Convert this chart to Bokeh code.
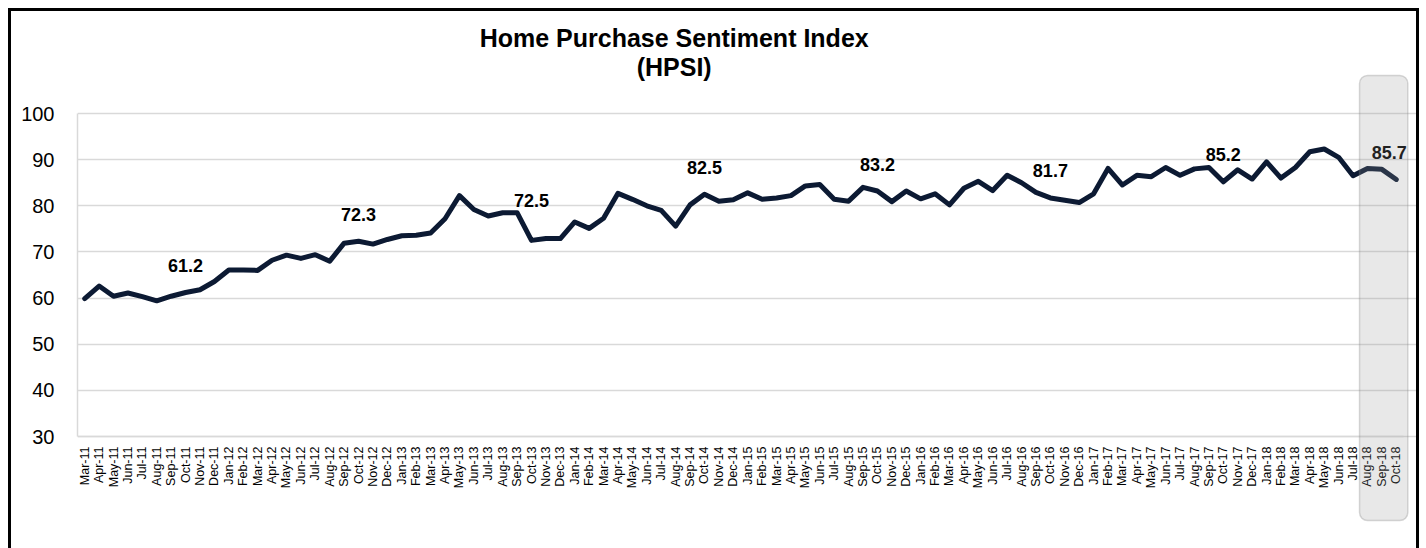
from bokeh.plotting import figure
from bokeh.models import Range1d, FixedTicker, BoxAnnotation, Label, ColumnDataSource
from bokeh.embed import file_html
from bokeh.resources import INLINE
from bokeh.core.properties import value

# ---------------- data ----------------
MONTHS = ["Jan", "Feb", "Mar", "Apr", "May", "Jun",
          "Jul", "Aug", "Sep", "Oct", "Nov", "Dec"]
YEARS = ["11", "12", "13", "14", "15", "16", "17", "18"]
month_labels = [f"{m}-{y}" for y in YEARS for m in MONTHS][2:2 + 92]   # Mar-11 .. Oct-18

hpsi = [
    59.9, 62.6, 60.4, 61.1, 60.3, 59.4, 60.4, 61.2, 61.8, 63.6,            # Mar-11..Dec-11
    66.1, 66.1, 66.0, 68.2, 69.3, 68.6, 69.4, 68.0, 71.9, 72.3, 71.7, 72.7,  # 2012
    73.5, 73.6, 74.1, 77.2, 82.2, 79.2, 77.8, 78.5, 78.5, 72.5, 72.9, 72.9,  # 2013
    76.5, 75.1, 77.3, 82.7, 81.4, 80.0, 79.0, 75.6, 80.2, 82.5, 81.0, 81.3,  # 2014
    82.8, 81.4, 81.7, 82.2, 84.3, 84.6, 81.4, 81.0, 84.0, 83.2, 80.9, 83.2,  # 2015
    81.5, 82.6, 80.2, 83.8, 85.3, 83.3, 86.6, 85.0, 82.9, 81.7, 81.2, 80.7,  # 2016
    82.6, 88.1, 84.5, 86.6, 86.3, 88.3, 86.6, 88.0, 88.3, 85.2, 87.8, 85.8,  # 2017
    89.5, 86.0, 88.3, 91.7, 92.3, 90.5, 86.5, 88.1, 87.9, 85.7,              # 2018
]

label_months = ["Oct-11", "Oct-12", "Oct-13", "Oct-14", "Oct-15", "Oct-16", "Oct-17", "Oct-18"]
label_values = [61.2, 72.3, 72.5, 82.5, 83.2, 81.7, 85.2, 85.7]

highlight_months = ["Aug-18", "Sep-18", "Oct-18"]

y_ticks = [30, 40, 50, 60, 70, 80, 90, 100]

TITLE_1 = "Home Purchase Sentiment Index"
TITLE_2 = "(HPSI)"

# ---------------- styles ----------------
FONT = "Liberation Sans"
LINE_COLOR = "#0c1a33"
GRID_COLOR = "#d9d9d9"
label_offsets = [-27, -27, -40, -27, -27, -27, -27, -27]   # px (negative = up)
label_dx = [0, 0, 0, 0, 0, 0, 0, -7]

n = len(hpsi)
xs = list(range(n))

# frame covers the whole canvas (right/top/bottom) so that the title and
# the highlight box can sit outside the 30..100 value band
PX_PER_X = 1326 / n
PX_PER_Y = 323 / 70
FRAME_W, FRAME_H = 1339, 546
x_end = -0.5 + FRAME_W / PX_PER_X
y_top = 100 + 102 / PX_PER_Y
y_bot = 30 - (FRAME_H - 102 - 323) / PX_PER_Y

p = figure(
    frame_width=FRAME_W, frame_height=FRAME_H,
    x_range=Range1d(-0.5, x_end), y_range=Range1d(y_bot, y_top),
    output_backend="svg", toolbar_location=None, title_location=None,
    min_border_left=66, min_border_right=0, min_border_top=0, min_border_bottom=0,
    background_fill_color="white", border_fill_color="white",
)
p.outline_line_color = None
p.styles = {"border": "3px solid black", "margin-left": "8px", "margin-top": "8px"}

# grid
p.xgrid.grid_line_color = None
p.ygrid.grid_line_color = GRID_COLOR
p.ygrid.grid_line_width = 1.5
p.ygrid.ticker = FixedTicker(ticks=y_ticks)
p.ygrid.bounds = (-0.5, n - 0.5)

# y axis
p.yaxis.ticker = FixedTicker(ticks=y_ticks)
p.yaxis.bounds = (30, 100)
p.yaxis.axis_line_color = GRID_COLOR
p.yaxis.axis_line_width = 1.5
p.yaxis.major_tick_line_color = None
p.yaxis.minor_tick_line_color = None
p.yaxis.major_label_text_font = FONT
p.yaxis.major_label_text_font_size = "20px"
p.yaxis.major_label_text_color = "#000000"
p.yaxis.major_label_standoff = 17

# x axis
p.xaxis.fixed_location = 30
p.xaxis.bounds = (-0.5, n - 0.5)
p.xaxis.ticker = FixedTicker(ticks=xs)
p.xaxis.major_label_overrides = {i: lab for i, lab in enumerate(month_labels)}
p.xaxis.major_label_orientation = 1.5707963
p.xaxis.axis_line_color = GRID_COLOR
p.xaxis.axis_line_width = 1.5
p.xaxis.major_tick_line_color = None
p.xaxis.minor_tick_line_color = None
p.xaxis.major_label_text_font = FONT
p.xaxis.major_label_text_font_size = "12.5px"
p.xaxis.major_label_text_color = "#000000"
p.xaxis.major_label_standoff = 4

# line
src = ColumnDataSource(dict(x=xs, y=hpsi, label=month_labels))
p.line("x", "y", source=src, line_color=LINE_COLOR, line_width=5, line_join="round", line_cap="round")

# data labels
idx = [month_labels.index(m) for m in label_months]
lsrc = ColumnDataSource(dict(
    x=idx, y=[hpsi[i] for i in idx],
    text=[f"{v:.1f}" for v in label_values],
    dy=label_offsets, dx=label_dx,
))
p.text("x", "y", text="text", source=lsrc, x_offset="dx", y_offset="dy",
       text_font=value(FONT), text_font_size="18px", text_font_style="bold",
       text_color="#000000", text_align="center", text_baseline="middle")

# highlight box for the latest months
hi = [month_labels.index(m) for m in highlight_months]
p.add_layout(BoxAnnotation(left=hi[0] - 0.55, right=hi[-1] + 0.8,
                           top=100 + 38 / PX_PER_Y, bottom=30 - 84 / PX_PER_Y,
                           fill_color="#969696", fill_alpha=0.22,
                           line_color="#808080", line_width=1.5, border_radius=8,
                           level="overlay"))

# title (two centred lines)
title_x = 40.9
p.add_layout(Label(x=title_x, y=100 + 76 / PX_PER_Y, text=TITLE_1,
                   text_font=FONT, text_font_size="25px", text_font_style="bold",
                   text_align="center", text_baseline="middle", text_color="#000000"))
p.add_layout(Label(x=title_x, y=100 + 47 / PX_PER_Y, text=TITLE_2,
                   text_font=FONT, text_font_size="25px", text_font_style="bold",
                   text_align="center", text_baseline="middle", text_color="#000000"))

open("out.html", "w").write(file_html(p, INLINE))
